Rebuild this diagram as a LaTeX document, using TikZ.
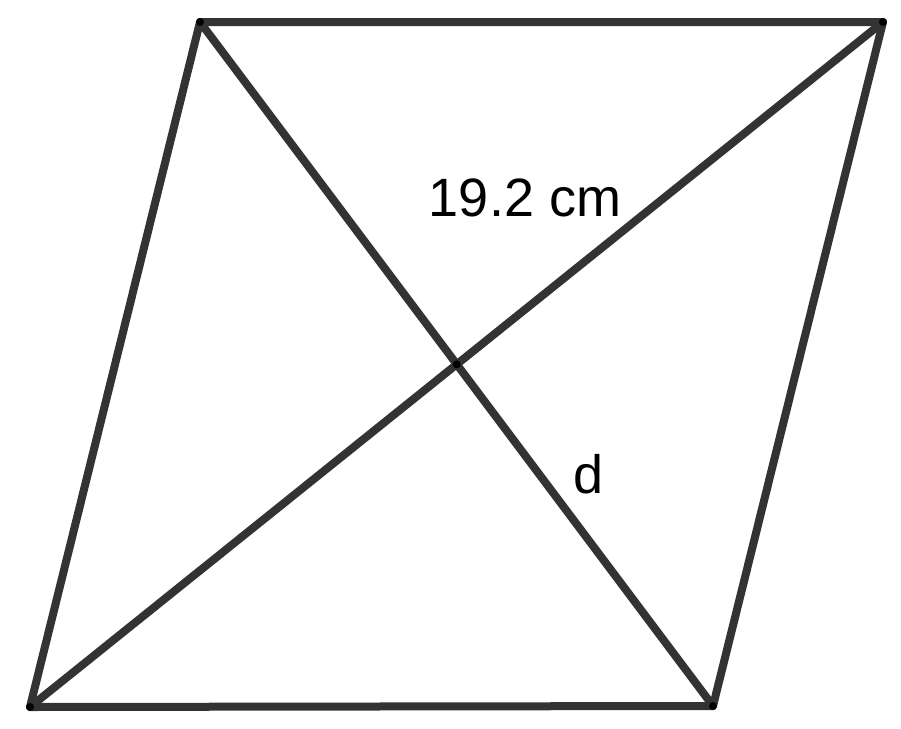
\documentclass[tikz,border=0pt]{standalone}
\usepackage{fontspec}
\setmainfont{Liberation Sans}
\begin{document}
\begin{tikzpicture}[x=1pt,y=-1pt,
  edge/.style={draw=black!80,line width=8pt,line cap=round,line join=round},
  vdot/.style={circle,fill=black,inner sep=0pt,minimum size=8pt},
  lbl/.style={font=\fontsize{54}{64}\selectfont,inner sep=0pt}]
\useasboundingbox (0,0) rectangle (901,728);
\coordinate (TL) at (200,22);
\coordinate (TR) at (883,22);
\coordinate (BR) at (713,706);
\coordinate (BL) at (30,707);
\coordinate (O) at (intersection of TL--BR and BL--TR);
\draw[edge] (TL) -- (TR) -- (BR) -- (BL) -- cycle;
\draw[edge] (TL) -- (BR);
\draw[edge] (BL) -- (TR);
\foreach \p in {TL,TR,BR,BL,O} \node[vdot] at (\p) {};
\node[lbl] (len) at (525,198) {19.2 cm};
\node[lbl] (d) at (589,474) {d};
\end{tikzpicture}
\end{document}
